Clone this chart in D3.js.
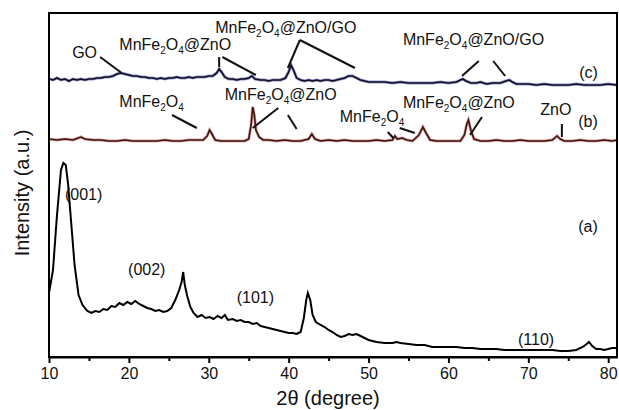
<!DOCTYPE html>
<html>
<head>
<meta charset="utf-8">
<script src="https://cdn.jsdelivr.net/npm/d3@7"></script>
<style>
body { margin: 0; background: #fff; }
text { font-family: "Liberation Sans", Arial, sans-serif; fill: #111; }
</style>
</head>
<body>
<svg id="chart" width="619" height="410"></svg>
<script>
// XRD patterns: [2theta (degree), intensity (a.u.)]
const patternA = [
    [10.0, 64], [10.5, 87], [11.0, 142], [11.5, 187], [11.8, 194], [12.1, 192], [12.4, 172], [12.8, 132], [13.2, 92], [13.7, 62],
    [14.2, 52], [14.8, 46], [15.3, 44], [15.8, 46], [16.3, 45], [16.8, 48], [17.3, 47], [17.8, 51], [18.3, 50], [18.8, 54],
    [19.3, 52], [19.8, 55], [20.3, 53], [20.8, 56], [21.3, 53], [21.8, 51], [22.3, 49], [22.8, 48], [23.3, 46], [23.8, 47],
    [24.3, 45], [24.8, 46], [25.3, 49], [25.8, 57],
    [26.3, 67], [26.6, 75], [26.8, 85], [27.0, 72], [27.3, 61], [27.7, 50], [28.1, 44], [28.6, 40], [29.1, 42], [29.6, 39],
    [30.1, 40], [30.6, 38], [31.1, 41], [31.6, 39], [32.0, 42], [32.4, 37],
    [33.0, 38], [33.5, 36], [34.0, 37], [34.5, 35], [35.0, 35], [35.5, 33], [36.0, 34], [36.5, 31], [37.0, 30], [37.5, 29],
    [38.0, 28], [38.5, 27], [39.0, 26], [39.5, 25], [40.0, 24], [40.5, 24], [41.0, 23], [41.5, 25],
    [41.9, 39], [42.2, 57], [42.4, 64], [42.7, 57], [43.0, 42], [43.4, 35],
    [44.0, 32], [44.5, 30], [45.0, 27], [45.5, 25], [46.0, 22], [46.5, 20], [47.0, 21], [47.5, 23], [48.0, 22], [48.5, 23],
    [49.0, 21], [49.5, 19], [50.0, 17], [50.5, 16], [51.0, 15],
    [52.0, 14], [53.0, 14], [53.5, 15], [54, 14], [55, 13], [56, 12], [57, 12], [58, 10], [59, 10], [60, 10], [61, 10],
    [62, 9], [63, 9], [64, 8], [65, 8], [66, 8], [67, 7], [68, 7], [69, 7], [70, 7], [71, 7], [72, 7], [73, 7], [74, 6],
    [75, 6], [76, 7], [76.8, 10], [77.3, 13], [77.6, 15], [78.0, 11], [78.5, 8], [79.0, 8], [79.5, 7], [80.0, 8], [80.5, 9], [81.1, 9]
];

const patternB = [
    [10.0, 218], [11.0, 217], [12.0, 218], [13.0, 217], [14.0, 220], [14.5, 218], [15.5, 217], [16.5, 217], [17.5, 216],
    [18.5, 216], [19.5, 217], [20.5, 216], [21.5, 216], [22.5, 216], [23.5, 216], [24.5, 217], [25.5, 216], [26.5, 216],
    [27.5, 217], [28.5, 217], [29.3, 217], [29.8, 221], [30.1, 227], [30.4, 223], [30.8, 217], [31.5, 216], [32.5, 216],
    [33.5, 216], [34.5, 216], [35.0, 218], [35.3, 232], [35.5, 250], [35.7, 242], [35.9, 227], [36.3, 220], [36.8, 217],
    [37.5, 217], [38.5, 216], [39.5, 217], [40.5, 216], [41.5, 216], [42.5, 218], [42.9, 223], [43.3, 218], [44.0, 216],
    [45.0, 217], [46.0, 216], [47.0, 217], [48.0, 216], [49.0, 216], [50.0, 216], [51.0, 217], [52.0, 216], [53.0, 217],
    [53.3, 221], [53.6, 218], [54.2, 219], [54.8, 217], [55.5, 216], [56.3, 222], [56.8, 230], [57.2, 224], [57.7, 217],
    [58.5, 216], [59.5, 216], [60.5, 216], [61.5, 216], [62.0, 222], [62.3, 233], [62.5, 237], [62.8, 227], [63.2, 218],
    [64.0, 216], [65.0, 216], [66.0, 217], [67.0, 216], [68.0, 216], [69.0, 217], [70.0, 216], [71.0, 216], [72.0, 216],
    [73.0, 217], [73.6, 221], [74.0, 218], [74.5, 216], [75.5, 216], [76.5, 217], [77.5, 216], [78.5, 216], [79.5, 217],
    [80.5, 216], [81.1, 217]
];

const patternC = [
    [10.0, 278], [10.5, 277], [11.0, 279], [11.5, 277], [12.0, 278], [12.5, 276], [13.0, 278], [13.5, 277], [14.0, 278],
    [14.5, 277], [15.0, 278], [15.5, 278], [16.0, 279], [16.5, 279], [17.0, 280], [17.5, 280], [18.0, 281], [18.5, 283],
    [19.0, 284], [19.5, 283], [20.0, 282], [20.5, 281], [21.0, 281], [21.5, 280], [22.0, 280], [22.5, 279], [23.0, 279],
    [23.5, 278], [24.0, 279], [24.5, 278], [25.0, 279], [25.5, 279], [26.0, 280], [26.5, 279], [27.0, 279], [27.5, 280],
    [28.0, 279], [28.5, 280], [29.0, 280], [29.5, 280], [30.0, 281], [30.5, 281], [31.0, 284], [31.3, 288], [31.6, 285],
    [32.0, 280], [32.5, 278], [33.0, 278], [33.5, 277], [34.0, 278], [34.5, 278], [35.0, 279], [35.4, 281], [35.8, 278],
    [36.5, 277], [37.0, 277], [37.5, 276], [38.0, 277], [38.5, 277], [39.0, 277], [39.6, 279], [40.0, 285], [40.3, 292],
    [40.6, 287], [41.0, 279], [41.5, 277], [42.0, 276], [42.5, 277], [43.0, 276], [43.5, 277], [44.0, 276], [44.5, 277],
    [45.0, 277], [45.5, 276], [46.0, 277], [46.5, 278], [47.0, 279], [47.5, 281], [48.0, 281], [48.5, 279], [49.0, 277],
    [49.5, 276], [50, 275], [51, 275], [52, 275], [53, 274], [54, 275], [55, 274], [56, 274], [57, 274], [58, 274],
    [59, 275], [60, 274], [61, 275], [61.5, 277], [61.8, 278], [62.2, 276], [62.8, 274], [63.5, 274], [64.0, 275],
    [64.8, 273], [65.5, 274], [66.5, 274], [67.2, 276], [67.6, 277], [68.0, 275], [68.5, 273], [69, 273], [70, 273],
    [71, 272], [72, 273], [73, 272], [74, 272], [75, 272], [76, 273], [77, 272], [78, 272], [79, 272], [80, 273], [81.1, 272]
];

const majorTicks = [10, 20, 30, 40, 50, 60, 70, 80];
const minorTicks = [15, 25, 35, 45, 55, 65, 75];

// labels: text ("_" = subscript next char), 2theta, intensity, anchor
const labels = [
    ["GO", 12.9, 299, "start"],
    ["MnFe_2O_4@ZnO", 18.8, 307, "start"],
    ["MnFe_2O_4@ZnO/GO", 30.8, 324, "start"],
    ["MnFe_2O_4@ZnO/GO", 54.3, 312, "start"],
    ["(c)", 78.7, 279, "end"],
    ["MnFe_2O_4", 18.8, 250, "start"],
    ["MnFe_2O_4@ZnO", 32.0, 257, "start"],
    ["MnFe_2O_4", 46.4, 235, "start"],
    ["MnFe_2O_4@ZnO", 54.3, 249, "start"],
    ["ZnO", 71.5, 242, "start"],
    ["(b)", 78.7, 230, "end"],
    ["(001)", 12.0, 157, "start"],
    ["(002)", 19.9, 82, "start"],
    ["(101)", 33.5, 54, "start"],
    ["(110)", 68.7, 12, "start"],
    ["(a)", 78.7, 125, "end"]
];

// leader lines pointing at peaks: [x1, y1, x2, y2] in data units
const leaders = [
    [16.4, 300, 19.1, 284],
    [31.3, 300, 31.3, 290],
    [31.7, 300, 35.9, 282],
    [41.4, 317, 39.9, 289],
    [41.4, 317, 48.3, 289],
    [63.8, 296, 61.7, 281],
    [65.6, 296, 67.1, 281],
    [25.4, 242, 28.5, 229],
    [38.7, 249, 35.5, 229],
    [39.9, 242, 41.0, 228],
    [52.4, 225, 53.1, 219],
    [53.9, 229, 55.8, 224],
    [64.2, 240, 62.7, 222],
    [74.2, 233, 74.2, 220]
];

const plotLeft = 49, plotRight = 617, plotTop = 13, plotBottom = 357;
const svg = d3.select("#chart");
svg.append("rect").attr("width", 619).attr("height", 410).attr("fill", "#fff");

const x = d3.scaleLinear().domain([10, 81.1]).range([plotLeft, plotRight]);
const y = d3.scaleLinear().domain([0, 344]).range([plotBottom, plotTop]);

svg.append("clipPath").attr("id", "plot-clip").append("rect")
    .attr("x", plotLeft).attr("y", plotTop).attr("width", plotRight - plotLeft).attr("height", plotBottom - plotTop);

const line = d3.line().x(d => x(d[0])).y(d => y(d[1]));
const plot = svg.append("g").attr("clip-path", "url(#plot-clip)");

// coloured halo under a dark trace, like the scanned figure
plot.append("path").datum(patternC).attr("d", line).attr("fill", "none").attr("stroke", "#4a4ab8").attr("stroke-width", 3).attr("opacity", 0.6);
plot.append("path").datum(patternC).attr("d", line).attr("fill", "none").attr("stroke", "#10101e").attr("stroke-width", 1.6);
plot.append("path").datum(patternB).attr("d", line).attr("fill", "none").attr("stroke", "#c04040").attr("stroke-width", 3).attr("opacity", 0.5);
plot.append("path").datum(patternB).attr("d", line).attr("fill", "none").attr("stroke", "#3a1812").attr("stroke-width", 1.6);
plot.append("path").datum(patternA).attr("d", line).attr("fill", "none").attr("stroke", "#000").attr("stroke-width", 2);

// frame
svg.append("rect").attr("x", plotLeft).attr("y", plotTop).attr("width", plotRight - plotLeft).attr("height", plotBottom - plotTop)
    .attr("fill", "none").attr("stroke", "#000").attr("stroke-width", 2);

// bottom axis
const axisG = svg.append("g").attr("transform", "translate(0," + plotBottom + ")")
    .call(d3.axisBottom(x).tickValues(majorTicks).tickSize(6).tickSizeOuter(0).tickPadding(5));
axisG.select(".domain").attr("stroke-width", 2);
axisG.selectAll(".tick line").attr("stroke-width", 2);
axisG.selectAll(".tick text").attr("font-size", 16).attr("font-family", "Liberation Sans, Arial, sans-serif").attr("fill", "#111");

const minorG = svg.append("g").attr("transform", "translate(0," + plotBottom + ")")
    .call(d3.axisBottom(x).tickValues(minorTicks).tickSize(4).tickFormat(""));
minorG.select(".domain").remove();
minorG.selectAll(".tick line").attr("stroke-width", 2);

svg.append("text").attr("x", 328).attr("y", 405).attr("text-anchor", "middle").attr("font-size", 20).text("2\u03b8 (degree)");
svg.append("text").attr("transform", "translate(29,193) rotate(-90)").attr("text-anchor", "middle").attr("font-size", 20).text("Intensity (a.u.)");

// annotations
svg.selectAll(".leader").data(leaders).join("line").classed("leader", true)
    .attr("x1", d => x(d[0])).attr("y1", d => y(d[1]))
    .attr("x2", d => x(d[2])).attr("y2", d => y(d[3]))
    .attr("stroke", "#111").attr("stroke-width", 2);

labels.forEach(l => {
    let t = svg.append("text").attr("x", x(l[1])).attr("y", y(l[2]))
        .attr("text-anchor", l[3]).attr("font-size", 16);
    let parts = l[0].split("_");
    t.append("tspan").text(parts[0]);
    for (let i = 1; i < parts.length; i++) {
        t.append("tspan").attr("font-size", 10).attr("dy", 4).text(parts[i].substring(0, 1));
        t.append("tspan").attr("dy", -4).text(parts[i].substring(1));
    }
});
</script>
</body>
</html>
